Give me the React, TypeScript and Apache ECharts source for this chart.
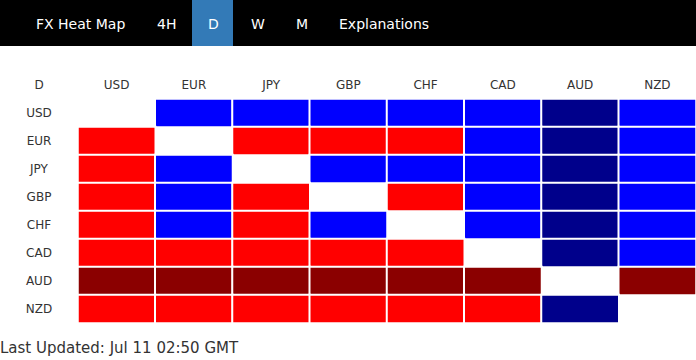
import React, { useEffect, useRef } from "react";
import * as echarts from "echarts";

const currencies = ["USD", "EUR", "JPY", "GBP", "CHF", "CAD", "AUD", "NZD"];
// strength level of column vs row: -2 dark red, -1 red, 1 blue, 2 dark blue, null = diagonal
const rowUSD = [null, 1, 1, 1, 1, 1, 2, 1];
const rowEUR = [-1, null, -1, -1, -1, 1, 2, 1];
const rowJPY = [-1, 1, null, 1, 1, 1, 2, 1];
const rowGBP = [-1, 1, -1, null, -1, 1, 2, 1];
const rowCHF = [-1, 1, -1, 1, null, 1, 2, 1];
const rowCAD = [-1, -1, -1, -1, -1, null, 2, 1];
const rowAUD = [-2, -2, -2, -2, -2, -2, null, -2];
const rowNZD = [-1, -1, -1, -1, -1, -1, 2, null];
const rows = [rowUSD, rowEUR, rowJPY, rowGBP, rowCHF, rowCAD, rowAUD, rowNZD];

const tabs = ["FX Heat Map", "4H", "D", "W", "M", "Explanations"];
const tabX = [36, 157, 208, 251, 296, 339];
const updatedText = "Last Updated: Jul 11 02:50 GMT";

const FONT = "DejaVu Sans, Verdana, sans-serif";

export default function App() {
  const ref = useRef<HTMLDivElement>(null);
  useEffect(() => {
    document.body.style.margin = "0";
    const chart = echarts.init(ref.current!, null, { renderer: "svg" });
    const data: any[] = [];
    rows.forEach((r, yi) =>
      r.forEach((v, xi) => data.push([xi, yi, v === null ? "-" : v]))
    );
    const tabGraphics: any[] = [
      { type: "rect", shape: { x: 0, y: 0, width: 696, height: 46 }, style: { fill: "#000" }, z: 0 },
      { type: "rect", shape: { x: 192, y: 0, width: 41, height: 46 }, style: { fill: "#337ab7" }, z: 1 },
    ];
    tabs.forEach((t, i) => {
      tabGraphics.push({
        type: "text",
        x: tabX[i],
        y: 24,
        z: 2,
        style: {
          text: t,
          fill: "#fff",
          font: `14px ${FONT}`,
          verticalAlign: "middle",
          align: "left",
        },
      });
    });
    chart.setOption({
      animation: false,
      backgroundColor: "#fff",
      grid: { left: 78, right: -1, top: 99, height: 224 },
      xAxis: {
        type: "category",
        data: currencies,
        position: "top",
        axisLine: { show: false },
        axisTick: { show: false },
        splitLine: { show: false },
        splitArea: { show: false },
        axisLabel: { color: "#333", fontSize: 12, fontFamily: FONT, margin: 8 },
      },
      yAxis: {
        type: "category",
        data: currencies,
        inverse: true,
        axisLine: { show: false },
        axisTick: { show: false },
        splitLine: { show: false },
        splitArea: { show: false },
        axisLabel: { color: "#333", fontSize: 12, fontFamily: FONT, margin: 39, align: "center" },
      },
      visualMap: {
        type: "piecewise",
        show: false,
        dimension: 2,
        pieces: [
          { value: -2, color: "#8b0000" },
          { value: -1, color: "#ff0000" },
          { value: 1, color: "#0000ff" },
          { value: 2, color: "#00008b" },
        ],
      },
      series: [
        {
          type: "heatmap",
          data,
          itemStyle: { borderColor: "#fff", borderWidth: 2 },
          emphasis: { disabled: true },
        },
      ],
      graphic: [
        ...tabGraphics,
        {
          type: "text",
          x: 39,
          y: 85,
          style: { text: "D", fill: "#333", font: `12px ${FONT}`, align: "center", verticalAlign: "middle" },
        },
        {
          type: "text",
          x: 0,
          y: 348,
          style: { text: updatedText, fill: "#333", font: `15px ${FONT}`, align: "left", verticalAlign: "middle" },
        },
      ],
    });
    return () => chart.dispose();
  }, []);
  return <div ref={ref} style={{ width: 696, height: 360 }} />;
}
